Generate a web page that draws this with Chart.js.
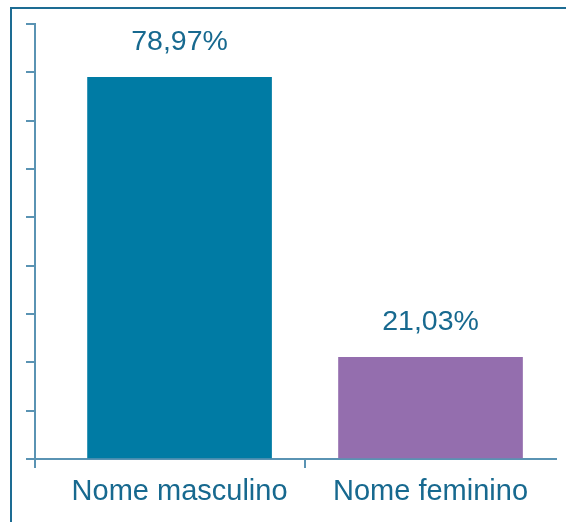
<!DOCTYPE html>
<html>
<head>
<meta charset="utf-8">
<script src="https://cdn.jsdelivr.net/npm/chart.js@4"></script>
<style>
  html, body { margin: 0; padding: 0; background: #fff; overflow: hidden; }
  #wrap { position: relative; width: 566px; height: 522px; overflow: hidden; }
  .frame { position: absolute; left: 10px; top: 7px; width: 700px; height: 700px; border: 2px solid #1d6c93; box-sizing: border-box; }
  #grafico { position: absolute; left: 0; top: 0; }
</style>
</head>
<body>
<div id="wrap">
  <div class="frame"></div>
  <canvas id="grafico" width="566" height="522"></canvas>
</div>
<script>
const categorias = ["Nome masculino", "Nome feminino"];
const porcentagens = [78.97, 21.03];
const cores = ["#007ba4", "#946eae"];

const corTexto = "#17698f";
const corEixo = "#5a93b3";
const fonte = "'Liberation Sans', Arial, sans-serif";

// rótulos em cima das barras
const rotulosBarras = {
  id: "rotulosBarras",
  afterDatasetsDraw(chart) {
    const ctx = chart.ctx;
    const meta = chart.getDatasetMeta(0);
    ctx.save();
    ctx.fillStyle = corTexto;
    ctx.font = "28.5px " + fonte;
    ctx.textAlign = "center";
    ctx.textBaseline = "alphabetic";
    meta.data.forEach((barra, i) => {
      const texto = porcentagens[i].toFixed(2).replace(".", ",") + "%";
      ctx.fillText(texto, barra.x, barra.y - 27);
    });
    ctx.restore();
  }
};

const dados = {
  datasets: [
    {
      data: categorias.map((c, i) => ({ x: i, y: porcentagens[i] })),
      backgroundColor: cores,
      borderWidth: 0,
      barThickness: 184
    }
  ]
};

const config = {
  type: "bar",
  data: dados,
  plugins: [rotulosBarras],
  options: {
    responsive: false,
    animation: false,
    layout: { padding: { left: 26, right: 10, top: 24, bottom: 0 } },
    plugins: { legend: { display: false }, tooltip: { enabled: false } },
    scales: {
      x: {
        type: "linear",
        offset: false,
        min: -0.576,
        max: 1.5,
        afterBuildTicks: (scale) => {
          scale.ticks = [scale.min, 0, 0.5, 1].map((v) => ({ value: v }));
        },
        afterFit: (scale) => { scale.height = 63; },
        border: { display: true, color: corEixo, width: 2 },
        grid: {
          offset: false,
          drawOnChartArea: false,
          drawTicks: true,
          tickLength: 9,
          lineWidth: 2,
          color: (ctx) => (ctx.tick && (ctx.tick.value === 0 || ctx.tick.value === 1) ? "rgba(0,0,0,0)" : corEixo)
        },
        ticks: {
          autoSkip: false,
          maxRotation: 0,
          padding: 7,
          color: corTexto,
          font: { family: fonte, size: 29 },
          callback: (valor) => (valor === 0 ? categorias[0] : valor === 1 ? categorias[1] : "")
        }
      },
      y: {
        min: 0,
        max: 90,
        afterFit: (scale) => { scale.width = 9; },
        border: { display: true, color: corEixo, width: 2 },
        grid: {
          drawOnChartArea: false,
          drawTicks: true,
          tickLength: 9,
          lineWidth: 2,
          color: corEixo
        },
        ticks: { display: false, stepSize: 10 }
      }
    }
  }
};

new Chart(document.getElementById("grafico"), config);
</script>
</body>
</html>
